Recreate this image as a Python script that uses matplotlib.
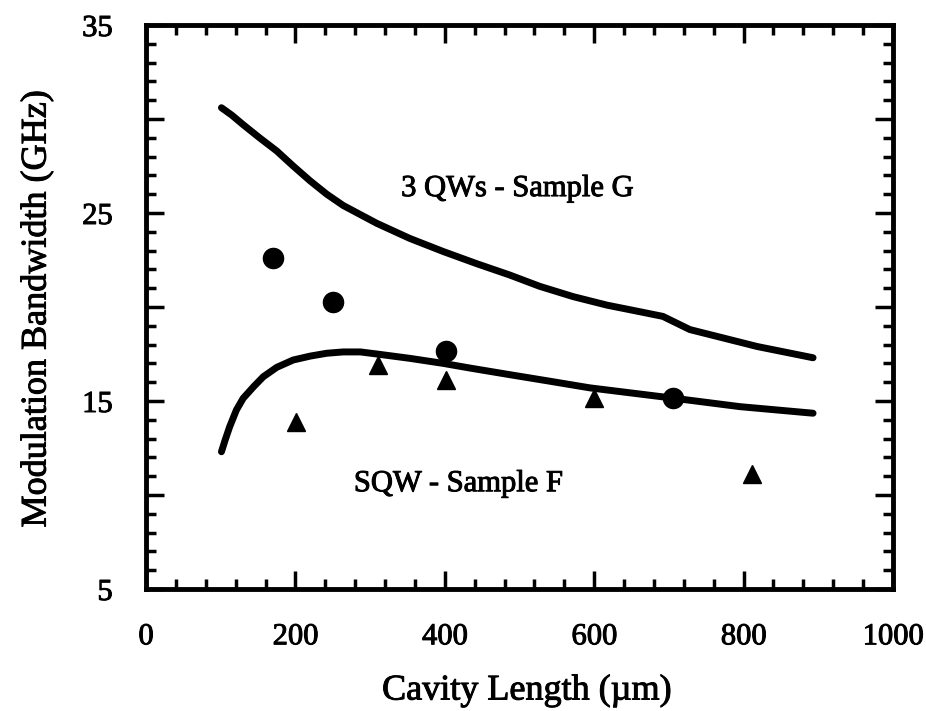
import matplotlib
matplotlib.use("Agg")
import matplotlib.pyplot as plt
import matplotlib.patheffects as pe
from matplotlib.ticker import MultipleLocator, FixedLocator, FixedFormatter

# ---- data ----
qw3_len = [101, 115, 130, 152, 175, 197, 220, 242, 264, 309, 353, 398, 443, 487, 527, 572, 617, 661, 692, 728, 773, 818, 893]
qw3_bw = [30.6, 30.2, 29.7, 29.0, 28.3, 27.5, 26.7, 26.0, 25.4, 24.45, 23.65, 22.95, 22.3, 21.7, 21.1, 20.55, 20.1, 19.75, 19.5, 18.8, 18.35, 17.9, 17.3]

sqw_len = [101, 106, 112, 121, 130, 144, 157, 175, 197, 220, 242, 264, 287, 309, 353, 398, 434, 487, 541, 594, 706, 795, 893]
sqw_bw = [12.3, 12.93, 13.63, 14.52, 15.14, 15.76, 16.29, 16.79, 17.18, 17.39, 17.54, 17.61, 17.61, 17.5, 17.27, 17.0, 16.75, 16.4, 16.05, 15.7, 15.15, 14.7, 14.35]

circle_len = [170, 250, 402, 705]
circle_bw = [22.6, 20.25, 17.65, 15.15]

tri_len = [201, 311, 402, 600, 811]
tri_bw = [13.9, 16.9, 16.1, 15.15, 11.1]

x_major = [0, 200, 400, 600, 800, 1000]
y_major = [5, 10, 15, 20, 25, 30, 35]
y_labels = ["5", "", "15", "", "25", "", "35"]

label_qw3 = "3 QWs - Sample G"
label_sqw = "SQW - Sample F"

plt.rcParams['font.family'] = ['Liberation Serif', 'DejaVu Serif']
heavy = [pe.withStroke(linewidth=0.7, foreground='black')]

fig = plt.figure(figsize=(9.26, 7.11), dpi=100)
ax = fig.add_axes([146/926, 1 - 589/711, (893-146)/926, (589-25)/711])

ax.plot(qw3_len, qw3_bw, color='black', lw=5, solid_capstyle='round', solid_joinstyle='round')
ax.plot(sqw_len, sqw_bw, color='black', lw=5, solid_capstyle='round', solid_joinstyle='round')
ax.plot(circle_len, circle_bw, 'o', color='black', ms=14.5, ls='none')
ax.plot(tri_len, tri_bw, '^', color='black', ms=13, ls='none')

ax.set_xlim(0, 1000)
ax.set_ylim(5, 35)

ax.xaxis.set_major_locator(FixedLocator(x_major))
ax.xaxis.set_minor_locator(MultipleLocator(40))
ax.yaxis.set_major_locator(FixedLocator(y_major))
ax.yaxis.set_major_formatter(FixedFormatter(y_labels))
ax.yaxis.set_minor_locator(MultipleLocator(1))

ax.tick_params(which='both', direction='in', top=True, right=True, color='black')
ax.tick_params(which='major', length=13, width=2.5, pad=24, labelsize=22)
ax.tick_params(which='minor', length=7, width=2.5)
for lab in ax.get_xticklabels() + ax.get_yticklabels():
    lab.set_path_effects(heavy)

for s in ax.spines.values():
    s.set_linewidth(3.5)

ax.text(497, 26.3, label_qw3, ha='center', va='center', fontsize=22, path_effects=heavy)
ax.text(418, 10.6, label_sqw, ha='center', va='center', fontsize=22, path_effects=heavy)

fig.text(527/926, 1 - 691/711, "Cavity Length (\u00b5m)", ha='center', va='center', fontsize=26, path_effects=heavy)
fig.text(37/926, 1 - 309/711, "Modulation Bandwidth (GHz)", ha='center', va='center', rotation=90, fontsize=26, path_effects=heavy)

fig.savefig("out.png", dpi=100, facecolor='white')
